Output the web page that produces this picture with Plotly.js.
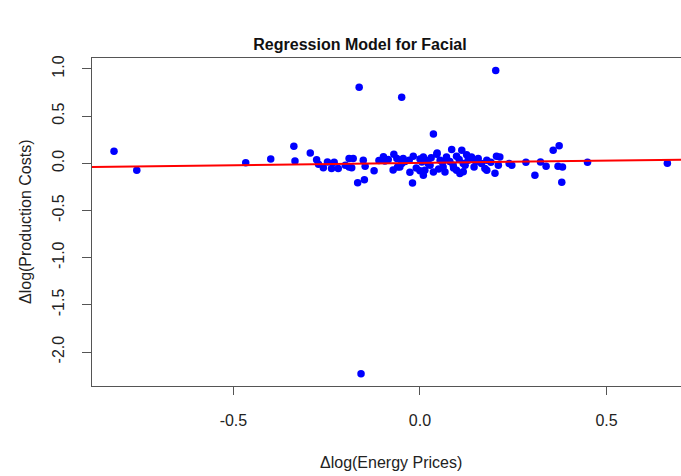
<!DOCTYPE html>
<html>
<head>
<meta charset="utf-8">
<script src="https://cdn.plot.ly/plotly-3.0.1.min.js"></script>
<style>
html,body{margin:0;padding:0;overflow:hidden;background:#fff;}
#chart{width:700px;height:476px;}
</style>
</head>
<body>
<div id="chart"></div>
<script>
// Δlog(Energy Prices)
var energyChange = [
  -0.820,-0.759,-0.467,-0.400,-0.338,-0.335,-0.294,-0.277,-0.272,-0.259,
  -0.248,-0.237,-0.219,-0.190,-0.190,-0.179,-0.183,-0.163,-0.167,-0.149,
  -0.152,-0.147,-0.158,-0.123,-0.098,-0.094,-0.070,-0.062,-0.072,-0.054,
  -0.049,-0.049,-0.045,-0.027,-0.020,-0.018,-0.029,0.005,0.009,0.009,
  0.013,0.022,0.027,0.036,0.036,0.045,0.046,0.054,0.062,0.067,
  0.071,0.071,0.085,0.089,0.098,0.098,0.107,0.112,0.116,0.116,
  0.121,0.129,0.138,0.138,0.156,0.165,0.174,0.179,0.179,0.201,
  0.203,0.205,0.214,0.210,0.239,0.246,0.284,0.308,0.323,0.338,
  0.357,0.373,0.370,0.382,0.380,0.449,0.663,
  -0.085,-0.040,-0.010,0.000,0.018,0.030,0.050,0.060,0.080,0.090,
  0.105,0.125,0.145,0.150,0.190,-0.110,-0.060,0.000,-0.200,-0.230
];
// Δlog(Production Costs)
var costChange = [
  0.127,-0.074,0.007,0.045,0.182,0.024,0.108,0.039,-0.011,-0.046,
  0.014,-0.056,-0.056,0.050,-0.039,0.050,-0.046,0.807,-0.205,-0.173,
  0.032,-0.030,-2.230,-0.078,0.070,0.024,0.095,0.050,-0.070,-0.039,
  0.700,-0.003,0.050,-0.095,-0.208,0.074,0.032,0.014,0.067,-0.127,
  -0.074,-0.003,-0.021,0.310,-0.092,0.095,0.109,0.032,-0.039,-0.092,
  0.050,0.067,0.145,-0.021,0.074,-0.074,-0.109,0.138,-0.003,-0.090,
  -0.021,0.032,0.067,0.050,0.050,-0.003,-0.056,0.032,-0.074,-0.105,
  0.984,0.074,0.067,-0.021,-0.003,-0.021,0.010,-0.127,0.014,-0.032,
  0.138,0.185,-0.032,-0.039,-0.201,0.012,0.000,
  0.040,0.020,-0.050,0.045,0.030,0.060,-0.060,0.010,0.020,-0.050,
  0.040,0.090,-0.040,0.020,0.010,0.030,-0.040,-0.080,-0.020,0.010
];
// fitted regression coefficients
var interceptCoef = 0.004;
var slopeCoef = 0.049;

var xTickVals = [-0.5, 0.0, 0.5];
var xTickText = ['-0.5', '0.0', '0.5'];
var yTickVals = [1.0, 0.5, 0.0, -0.5, -1.0, -1.5, -2.0];
var yTickText = ['1.0', '0.5', '0.0', '-0.5', '-1.0', '-1.5', '-2.0'];

var xRange = [-0.879, 0.721];
var yRange = [-2.36, 1.116];

var lineX = xRange.slice();
var lineY = lineX.map(function (v) { return interceptCoef + slopeCoef * v; });

var font = 'Liberation Sans, Arial, sans-serif';
var axisCol = '#555555';

var traces = [
  {
    type: 'scatter', mode: 'markers', x: energyChange, y: costChange,
    marker: {color: '#0000FF', size: 7.5, line: {width: 0}},
    hoverinfo: 'x+y', showlegend: false
  },
  {
    type: 'scatter', mode: 'lines', x: lineX, y: lineY,
    line: {color: '#FF0000', width: 2}, showlegend: false, hoverinfo: 'skip'
  }
];

var layout = {
  width: 700, height: 476,
  margin: {l: 92, r: 11, t: 57.5, b: 90, pad: 0},
  paper_bgcolor: '#ffffff', plot_bgcolor: '#ffffff',
  font: {family: font, size: 16, color: '#222222'},
  title: {
    text: '<b>Regression Model for Facial</b>',
    font: {family: font, size: 16, color: '#111111'},
    x: 360 / 700, xref: 'container', xanchor: 'center',
    y: 1 - 44 / 476, yref: 'container', yanchor: 'middle'
  },
  xaxis: {
    range: xRange, autorange: false,
    tickvals: xTickVals, ticktext: xTickText,
    showgrid: false, zeroline: false,
    showline: true, mirror: true, linecolor: axisCol, linewidth: 1,
    ticks: 'outside', ticklen: 8, tickwidth: 1, tickcolor: axisCol,
    ticklabelstandoff: 12,
    tickfont: {family: font, size: 16, color: '#222222'}
  },
  yaxis: {
    range: yRange, autorange: false,
    tickvals: yTickVals, ticktext: yTickText,
    tickangle: -90,
    showgrid: false, zeroline: false,
    showline: true, mirror: true, linecolor: axisCol, linewidth: 1,
    ticks: 'outside', ticklen: 9, tickwidth: 1, tickcolor: axisCol,
    ticklabelstandoff: 12,
    tickfont: {family: font, size: 16, color: '#222222'}
  },
  annotations: [
    {
      text: 'Δlog(Energy Prices)', xref: 'paper', yref: 'paper',
      x: 0.5, y: 0, xanchor: 'center', yanchor: 'middle', yshift: -76,
      showarrow: false, font: {family: font, size: 16, color: '#222222'}
    },
    {
      text: 'Δlog(Production Costs)', xref: 'paper', yref: 'paper',
      x: 0, y: 0.5, xanchor: 'center', yanchor: 'middle', xshift: -67,
      textangle: -90,
      showarrow: false, font: {family: font, size: 16, color: '#222222'}
    }
  ]
};

Plotly.newPlot('chart', traces, layout, {displayModeBar: false, staticPlot: true});
</script>
</body>
</html>
